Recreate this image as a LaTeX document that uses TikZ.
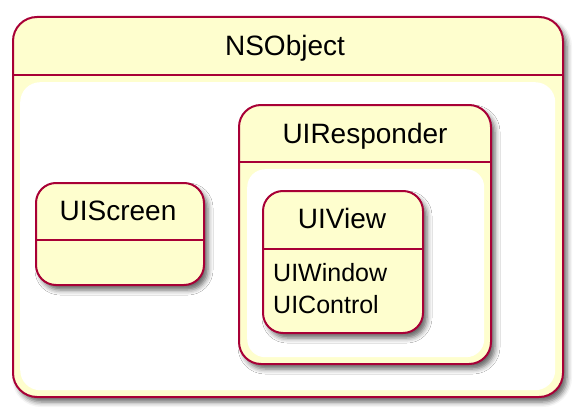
\documentclass[tikz,border=0pt]{standalone}
\usepackage{fontspec}
\setmainfont{Liberation Sans}
\usetikzlibrary{shadows.blur}
\definecolor{umlfill}{HTML}{FEFECE}
\definecolor{umlline}{HTML}{A80036}
\tikzset{
  statebox/.style={draw=umlline, fill=umlfill, line width=2pt, anchor=north west, inner sep=0pt,
    blur shadow={shadow xshift=4pt, shadow yshift=-5pt, shadow blur radius=5pt, shadow opacity=60}},
  innerbox/.style={fill=white, anchor=north west, inner sep=0pt},
  divider/.style={draw=umlline, line width=2pt},
  statename/.style={font=\fontsize{28}{32}\selectfont, inner sep=0pt, anchor=base},
  stateitems/.style={font=\fontsize{25}{32}\selectfont, align=left, anchor=base west, inner sep=0pt}
}
\begin{document}
\begin{tikzpicture}[x=1pt,y=-1pt]
\useasboundingbox (0,0) rectangle (585,417);
% NSObject
\node[statebox, rounded corners=24pt, minimum width=550pt, minimum height=380pt] (nsobject) at (12,16) {};
\draw[divider] (nsobject.west |- 0,75) -- (nsobject.east |- 0,75);
\node[innerbox, rounded corners=20pt, minimum width=535pt, minimum height=308pt] (nsbody) at (20,82) {};
\node[statename] (nsname) at (285,56) {NSObject};
% UIScreen
\node[statebox, rounded corners=20pt, minimum width=168pt, minimum height=102pt] (uiscreen) at (35,182) {};
\draw[divider] (uiscreen.west |- 0,240) -- (uiscreen.east |- 0,240);
\node[statename] (screenname) at (118,220) {UIScreen};
% UIResponder
\node[statebox, rounded corners=22pt, minimum width=252pt, minimum height=259pt] (uiresponder) at (238,104) {};
\draw[divider] (uiresponder.west |- 0,162) -- (uiresponder.east |- 0,162);
\node[innerbox, rounded corners=18pt, minimum width=237pt, minimum height=188pt] (respbody) at (247,169) {};
\node[statename] (respname) at (365,143) {UIResponder};
% UIView
\node[statebox, rounded corners=20pt, minimum width=160pt, minimum height=142pt] (uiview) at (262,190) {};
\draw[divider] (uiview.west |- 0,249) -- (uiview.east |- 0,249);
\node[statename] (viewname) at (342,228) {UIView};
\node[stateitems] (viewitems) at (273,313) {UIWindow\\UIControl};
\end{tikzpicture}
\end{document}
